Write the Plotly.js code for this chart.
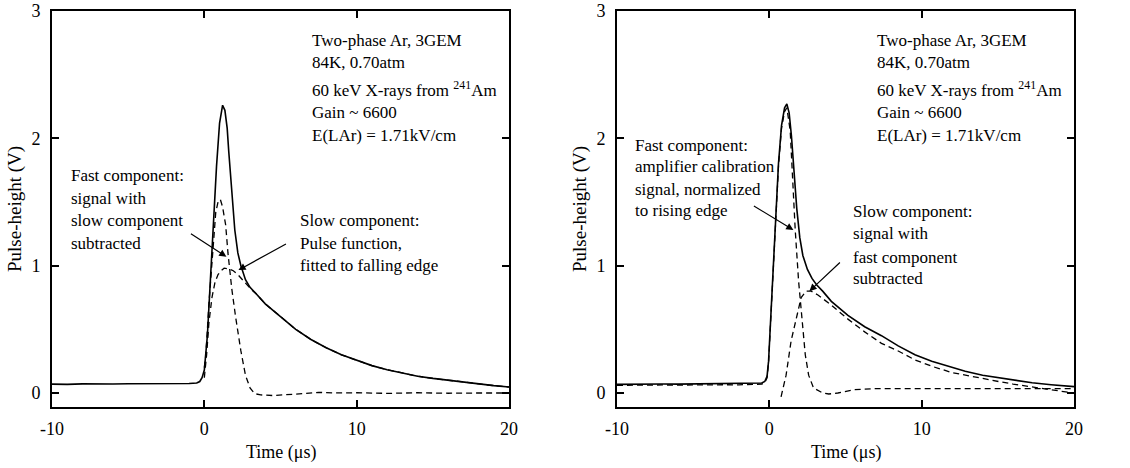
<!DOCTYPE html>
<html>
<head>
<meta charset="utf-8">
<script src="https://cdn.plot.ly/plotly-3.0.1.min.js"></script>
<style>
html,body{margin:0;padding:0;background:#fff;}
#chart{width:1130px;height:468px;}
</style>
</head>
<body>
<div id="chart"></div>
<script>
// ---------- Left panel: slow component fitted by pulse function ----------
const leftSignalT = [-10,-9,-8,-7,-6,-5,-4,-3,-2,-1,-0.5,-0.3,-0.15,0,0.2,0.4,0.6,0.8,1.0,1.2,1.35,1.5,1.6,1.8,2.0,2.2,2.4,2.7,3.0,3.4,4.0,5,6,7,8,9,10,11,12,13,14,15,16,17,18,19,20];
const leftSignalV = [0.070,0.068,0.072,0.070,0.071,0.073,0.072,0.074,0.073,0.074,0.078,0.09,0.12,0.18,0.45,0.90,1.35,1.78,2.12,2.26,2.22,2.08,1.90,1.55,1.28,1.10,1.00,0.89,0.83,0.78,0.70,0.60,0.50,0.42,0.355,0.30,0.255,0.215,0.183,0.155,0.132,0.115,0.100,0.085,0.072,0.058,0.047];

const leftFastT = [0.0,0.1,0.3,0.5,0.75,0.9,1.05,1.2,1.4,1.55,1.6,1.8,2.05,2.4,2.7,3.0,3.3,3.7,4.5,5.5,6.5,7.5,8.5,10,12,14,16,18,20];
const leftFastV = [0.20,0.30,0.70,1.05,1.42,1.50,1.52,1.46,1.32,1.10,1.04,0.82,0.60,0.33,0.14,0.04,-0.005,-0.015,-0.02,-0.015,-0.005,0.005,0.0,0.002,-0.003,0.002,-0.002,0.0,0.0];

const leftSlowT = [0.0,0.15,0.3,0.5,0.7,0.9,1.1,1.3,1.6,1.9,2.2,2.5,2.8,3.1,3.4,4.0,5,6,7,8,9,10,11,12,13,14,15,16,17,18,19,20];
const leftSlowV = [0.12,0.30,0.55,0.75,0.87,0.93,0.96,0.98,0.975,0.96,0.93,0.89,0.85,0.81,0.78,0.70,0.60,0.50,0.42,0.355,0.30,0.255,0.215,0.183,0.155,0.132,0.115,0.100,0.085,0.072,0.058,0.047];

// ---------- Right panel: fast component from amplifier calibration ----------
const rightSignalT = [-10,-9,-8,-7,-6,-5,-4,-3,-2,-1,-0.5,-0.3,-0.15,-0.05,0.15,0.4,0.6,0.8,1.0,1.15,1.3,1.45,1.6,1.8,2.0,2.2,2.5,2.8,3.1,3.5,4.07,5.16,6.26,7.36,8.46,9.56,10.66,12,12.86,14,15.05,16,17.25,18.5,20];
const rightSignalV = [0.068,0.070,0.069,0.071,0.070,0.072,0.071,0.073,0.072,0.074,0.078,0.09,0.13,0.25,0.75,1.32,1.80,2.10,2.24,2.27,2.20,2.02,1.78,1.45,1.22,1.08,0.97,0.90,0.85,0.80,0.72,0.61,0.52,0.45,0.37,0.30,0.25,0.20,0.17,0.14,0.12,0.10,0.08,0.065,0.05];

const rightFastT = [-10,-9,-8,-7,-6,-5,-4,-3,-2,-1,-0.5,-0.3,-0.15,-0.05,0.15,0.4,0.6,0.8,1.0,1.15,1.37,1.59,1.7,1.92,2.14,2.36,2.58,2.9,3.5,3.9,4.5,5.5,7,10,13,16,20];
const rightFastV = [0.060,0.062,0.061,0.063,0.062,0.064,0.063,0.065,0.064,0.066,0.070,0.08,0.12,0.24,0.74,1.30,1.78,2.08,2.21,2.24,2.06,1.54,1.28,0.88,0.57,0.30,0.14,0.04,0.0,-0.008,0.0,0.025,0.035,0.035,0.036,0.035,0.035];

const rightSlowT = [0.77,1.1,1.43,1.76,2.09,2.42,2.75,3.19,4.07,5.16,6.26,7.36,8.46,9.56,10.66,12,12.86,14,15.05,16,17.25,18.5,20];
const rightSlowV = [-0.03,0.14,0.41,0.59,0.75,0.80,0.80,0.77,0.69,0.58,0.48,0.39,0.33,0.26,0.21,0.16,0.14,0.11,0.09,0.07,0.045,0.025,0.0];

// ---------- Text ----------
const infoLines = ["Two-phase Ar, 3GEM", "84K, 0.70atm", "60 keV X-rays from <sup>241</sup>Am", "Gain ~ 6600", "E(LAr) = 1.71kV/cm"];
const leftFastLabel = ["Fast component:", "signal with", "slow component", "subtracted"];
const leftSlowLabel = ["Slow component:", "Pulse function,", "fitted to falling edge"];
const rightFastLabel = ["Fast component:", "amplifier calibration", "signal, normalized", "to rising edge"];
const rightSlowLabel = ["Slow component:", "signal with", "fast component", "subtracted"];
const xTitle = "Time (μs)";
const yTitle = "Pulse-height (V)";

const W = 1130, H = 468;
const FONT = 'Liberation Serif, Times New Roman, serif';
const px = v => v / W;
const py = v => 1 - v / H;

const solid = {color: '#000', width: 1.6};
const dashed = {color: '#000', width: 1.3, dash: '6px,4px'};

const traces = [
  {x: leftSignalT, y: leftSignalV, xaxis: 'x', yaxis: 'y', mode: 'lines', line: solid, name: 'signal'},
  {x: leftFastT, y: leftFastV, xaxis: 'x', yaxis: 'y', mode: 'lines', line: dashed, name: 'fast'},
  {x: leftSlowT, y: leftSlowV, xaxis: 'x', yaxis: 'y', mode: 'lines', line: dashed, name: 'slow'},
  {x: rightSignalT, y: rightSignalV, xaxis: 'x2', yaxis: 'y2', mode: 'lines', line: solid, name: 'signal'},
  {x: rightFastT, y: rightFastV, xaxis: 'x2', yaxis: 'y2', mode: 'lines', line: dashed, name: 'fast'},
  {x: rightSlowT, y: rightSlowV, xaxis: 'x2', yaxis: 'y2', mode: 'lines', line: dashed, name: 'slow'}
];

function xAxis(domain, anchor) {
  return {
    domain: domain, anchor: anchor, range: [-10, 20], tickvals: [-10, 0, 10, 20], ticktext: ['-10', '0', '10', '20'],
    showline: true, linecolor: '#000', linewidth: 2, mirror: 'ticks',
    ticks: 'inside', ticklen: 7, tickwidth: 2, tickcolor: '#000',
    showgrid: false, zeroline: false, ticklabelstandoff: 4,
    tickfont: {family: FONT, size: 18, color: '#000'}
  };
}
function yAxis(anchor) {
  return {
    domain: [py(407), py(11)], anchor: anchor, range: [-0.11, 3.0], tickvals: [0, 1, 2, 3],
    showline: true, linecolor: '#000', linewidth: 2, mirror: 'ticks',
    ticks: 'inside', ticklen: 7, tickwidth: 2, tickcolor: '#000',
    showgrid: false, zeroline: false, ticklabelstandoff: 6,
    tickfont: {family: FONT, size: 18, color: '#000'}
  };
}

const annotations = [];
function textBlock(lines, left, centers) {
  lines.forEach((t, i) => {
    annotations.push({xref: 'paper', yref: 'paper', x: px(left), y: py(centers[i]), xanchor: 'left', yanchor: 'middle',
      text: t, showarrow: false, font: {family: FONT, size: 17, color: '#000'}, align: 'left'});
  });
}
const infoCenters = [40, 63, 89, 112, 135];
textBlock(infoLines, 310, infoCenters);
textBlock(infoLines, 875, infoCenters);
textBlock(leftFastLabel, 69, [175, 198, 220, 243]);
textBlock(leftSlowLabel, 298, [220, 243, 265]);
textBlock(rightFastLabel, 633, [145, 166, 189, 211]);
textBlock(rightSlowLabel, 851, [212, 233, 257, 278]);

function arrow(xr, yr, hx, hy, ax, ay) {
  annotations.push({xref: xr, yref: yr, x: hx, y: hy, ax: ax, ay: ay, text: '', showarrow: true,
    arrowhead: 2, arrowsize: 1.2, arrowwidth: 1.2, arrowcolor: '#000'});
}
arrow('x', 'y', 1.45, 1.07, -37, -24);
arrow('x', 'y', 2.24, 0.965, 49, -27);
arrow('x2', 'y2', 1.58, 1.28, -41, -25);
arrow('x2', 'y2', 2.63, 0.80, 32, -30);

// axis titles
[281, 846].forEach(cx => {
  annotations.push({xref: 'paper', yref: 'paper', x: px(cx), y: py(452), xanchor: 'center', yanchor: 'middle',
    text: xTitle, showarrow: false, font: {family: FONT, size: 18, color: '#000'}});
});
[15, 580].forEach(cx => {
  annotations.push({xref: 'paper', yref: 'paper', x: px(cx), y: py(209), xanchor: 'center', yanchor: 'middle',
    text: yTitle, textangle: -90, showarrow: false, font: {family: FONT, size: 19, color: '#000'}});
});

const layout = {
  width: W, height: H,
  margin: {l: 0, r: 0, t: 0, b: 0},
  paper_bgcolor: '#fff', plot_bgcolor: '#fff',
  showlegend: false,
  font: {family: FONT, color: '#000'},
  xaxis: xAxis([px(52), px(509)], 'y'),
  yaxis: yAxis('x'),
  xaxis2: xAxis([px(617), px(1074)], 'y2'),
  yaxis2: yAxis('x2'),
  annotations: annotations
};

Plotly.newPlot('chart', traces, layout, {displayModeBar: false, staticPlot: true});
</script>
</body>
</html>
